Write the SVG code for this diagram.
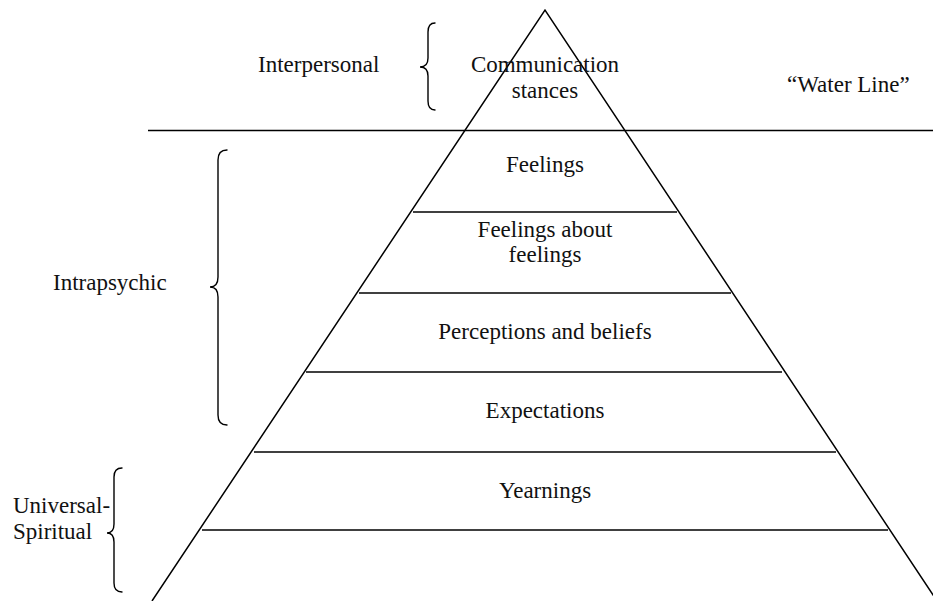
<svg xmlns="http://www.w3.org/2000/svg" width="933" height="601" viewBox="0 0 933 601">
  <style>
    .t { font-family: "Liberation Serif", "Times New Roman", serif; font-size: 23px; fill: #111; }
    .c { text-anchor: middle; }
    .ln { stroke: #000; stroke-width: 1.5; fill: none; }
    .br { stroke: #000; stroke-width: 1.4; fill: none; stroke-linecap: round; }
  </style>
  <rect width="933" height="601" fill="#fff"/>
  <g id="pyramid">
    <path class="ln" d="M152,601 L545,10 L937,601"/>
  </g>
  <g id="water-line">
    <line class="ln" x1="148" y1="130.5" x2="933" y2="130.5"/>
    <text class="t" x="787" y="92">“Water Line”</text>
  </g>
  <g id="communication-stances">
    <text class="t c" x="545" y="72">Communication</text>
    <text class="t c" x="545" y="98">stances</text>
  </g>
  <g id="feelings">
    <text class="t c" x="545" y="172">Feelings</text>
    <line class="ln" x1="413" y1="212" x2="677" y2="212"/>
  </g>
  <g id="feelings-about-feelings">
    <text class="t c" x="545" y="237">Feelings about</text>
    <text class="t c" x="545" y="262">feelings</text>
    <line class="ln" x1="359" y1="293" x2="731" y2="293"/>
  </g>
  <g id="perceptions">
    <text class="t c" x="545" y="339">Perceptions and beliefs</text>
    <line class="ln" x1="306" y1="372" x2="782" y2="372"/>
  </g>
  <g id="expectations">
    <text class="t c" x="545" y="418">Expectations</text>
    <line class="ln" x1="254" y1="452" x2="836" y2="452"/>
  </g>
  <g id="yearnings">
    <text class="t c" x="545" y="498">Yearnings</text>
    <line class="ln" x1="202" y1="530" x2="888" y2="530"/>
  </g>
  <g id="interpersonal">
    <text class="t" x="258" y="72">Interpersonal</text>
    <path class="br" d="M435,23 Q428,23 428,32 L428,58 Q428,67 420,67 Q428,67 428,76 L428,101 Q428,110 435,110"/>
  </g>
  <g id="intrapsychic">
    <text class="t" x="53" y="290">Intrapsychic</text>
    <path class="br" d="M227,150 Q218,150 218,160 L218,277 Q218,287 210,287 Q218,287 218,297 L218,415 Q218,425 227,425"/>
  </g>
  <g id="universal-spiritual">
    <text class="t" x="13" y="513">Universal-</text>
    <text class="t" x="13" y="539">Spiritual</text>
    <path class="br" d="M122,468 Q114,468 114,477 L114,524 Q114,533 107,533 Q114,533 114,542 L114,583 Q114,592 122,592"/>
  </g>
  <g id="connectors"></g>
</svg>
